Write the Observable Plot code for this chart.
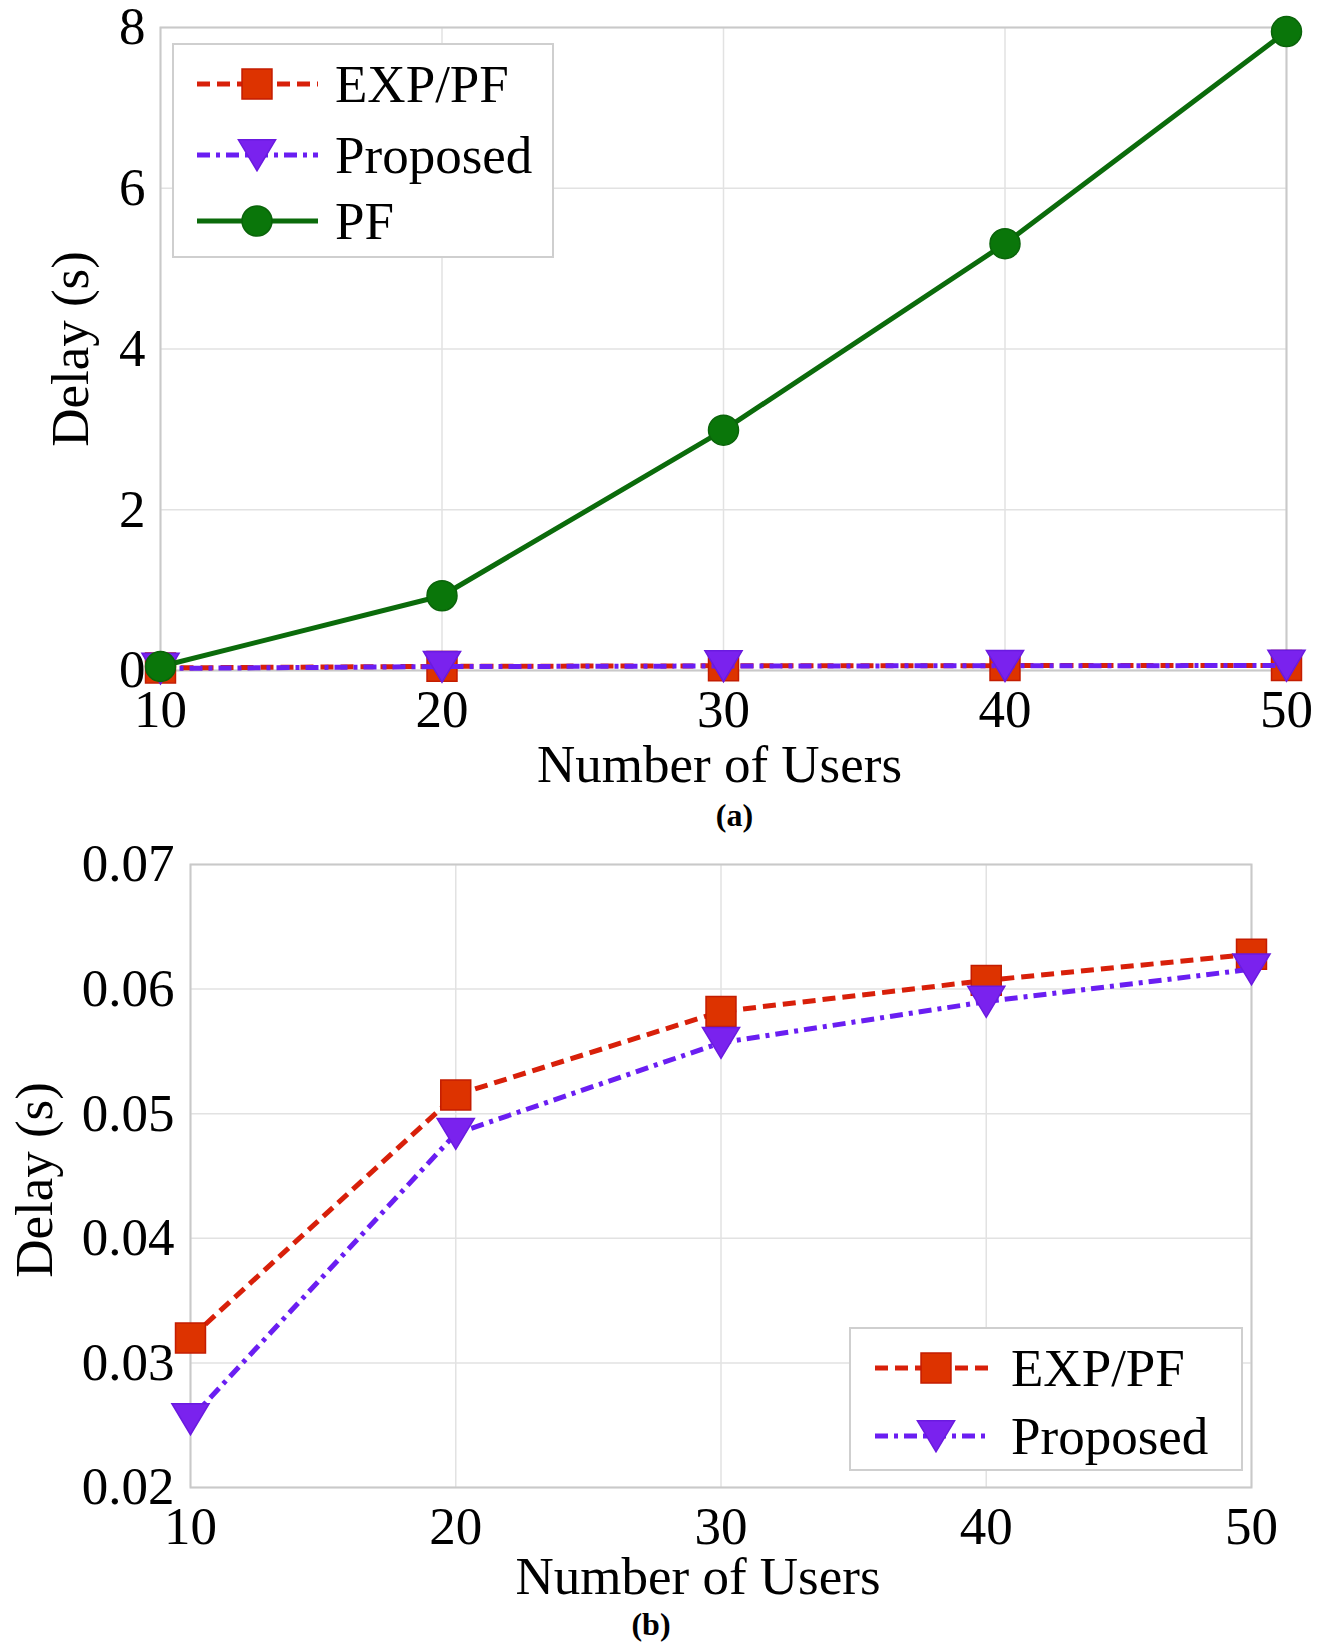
<!DOCTYPE html>
<html><head><meta charset="utf-8">
<script src="https://cdn.jsdelivr.net/npm/d3@7"></script>
<script src="https://cdn.jsdelivr.net/npm/@observablehq/plot@0.6"></script>
<style>
html,body{margin:0;padding:0;background:#fff;}
#wrap{width:1330px;height:1644px;position:relative;overflow:hidden;}
#wrap svg{display:block;overflow:visible;}
</style></head><body><div id="wrap"></div>
<script>
// ---- data ----
const users = [10, 20, 30, 40, 50];
const expPF = [0.0320, 0.0515, 0.0582, 0.0607, 0.0628];
const proposed = [0.0255, 0.0484, 0.0557, 0.0590, 0.0616];
const pf = [0.05, 0.93, 2.99, 5.31, 7.95];
const xTicks = [10, 20, 30, 40, 50];
const yTicksA = [0, 2, 4, 6, 8];
const yTicksB = [0.02, 0.03, 0.04, 0.05, 0.06, 0.07];
const xLabel = "Number of Users";
const yLabel = "Delay (s)";

// ---- styles ----
const triDown = {
  draw(ctx, size) {
    const r = Math.sqrt(size / Math.PI);
    ctx.moveTo(-1.1 * r, -0.9 * r);
    ctx.lineTo(1.1 * r, -0.9 * r);
    ctx.lineTo(0, 0.93 * r);
    ctx.closePath();
  }
};
const S = {
  "EXP/PF": {stroke: "#d8200a", fill: "#dd3300", mstroke: "#c41c00", dash: "13,7", symbol: d3.symbolSquare, r: 16.9},
  "Proposed": {stroke: "#6a1ef2", fill: "#7a22ee", mstroke: "#6a1ae0", dash: "13,6,4,6", symbol: triDown, r: 16.9},
  "PF": {stroke: "#0b6b0b", fill: "#0a760a", mstroke: "#0a640a", dash: null, symbol: d3.symbolCircle, r: 15}
};
const FONT = "'Liberation Serif','Times New Roman',Times,serif";
const FS = 53;

function rows(name, vals) { return users.map((u, i) => ({users: u, delay: vals[i], series: name})); }

function seriesMarks(name, vals) {
  const d = rows(name, vals), s = S[name];
  return [
    Plot.line(d, {x: "users", y: "delay", stroke: s.stroke, strokeWidth: 5, strokeDasharray: s.dash || undefined, strokeLinecap: "butt"}),
    Plot.dot(d, {x: "users", y: "delay", symbol: s.symbol, r: s.r, fill: s.fill, stroke: s.mstroke, strokeWidth: 1.5})
  ];
}

function makeChart(o) {
  const svg = Plot.plot({
    width: 1330, height: o.height,
    marginTop: o.mt, marginBottom: o.mb, marginLeft: o.ml, marginRight: o.mr,
    style: {fontFamily: FONT, fontSize: FS + "px", color: "#000", background: "#fff", overflow: "visible"},
    x: {domain: [10, 50]},
    y: {domain: o.yDomain},
    marks: [
      Plot.gridX(xTicks, {stroke: "#e2e2e2", strokeOpacity: 1, strokeWidth: 1.5}),
      Plot.gridY(o.yTicks, {stroke: "#e2e2e2", strokeOpacity: 1, strokeWidth: 1.5}),
      Plot.frame({stroke: "#c9c9c9", strokeWidth: 2}),
      Plot.axisX(xTicks, {tickSize: 0, tickPadding: 19, fontSize: FS, label: null}),
      Plot.axisY(o.yTicks, {tickSize: 0, tickPadding: o.ypad, fontSize: FS, label: null, tickFormat: o.yFormat}),
      ...o.series.flatMap(([n, v]) => seriesMarks(n, v)),
      Plot.text([xLabel], {frameAnchor: "bottom", lineAnchor: "middle", textAnchor: "middle", dy: o.xlDy, dx: o.xlDx, fontSize: FS}),
      Plot.text([yLabel], {frameAnchor: "left", lineAnchor: "middle", textAnchor: "middle", rotate: -90, dx: o.ylDx, dy: o.ylDy, fontSize: FS}),
      Plot.text([o.cap], {frameAnchor: "bottom", lineAnchor: "middle", textAnchor: "middle", dy: o.capDy, dx: o.capDx, fontSize: 32, fontWeight: "bold"})
    ]
  });
  // legend
  const g = d3.select(svg).append("g").attr("font-family", FONT).attr("font-size", FS).attr("text-anchor", "start");
  const L = o.legend;
  g.append("rect").attr("x", L.x).attr("y", L.y).attr("width", L.w).attr("height", L.h)
    .attr("fill", "#fff").attr("stroke", "#cfcfcf").attr("stroke-width", 2);
  L.items.forEach((name, i) => {
    const s = S[name], yy = L.rowY[i];
    g.append("line").attr("x1", L.lx0).attr("x2", L.lx1).attr("y1", yy).attr("y2", yy)
      .attr("stroke", s.stroke).attr("stroke-width", 5).attr("stroke-dasharray", s.dash);
    g.append("path").attr("transform", `translate(${L.mx},${yy})`)
      .attr("d", d3.symbol(s.symbol, Math.PI * s.r * s.r)())
      .attr("fill", s.fill).attr("stroke", s.mstroke).attr("stroke-width", 1.5);
    g.append("text").attr("x", L.tx).attr("y", yy).attr("dy", "0.34em").attr("fill", "#000").text(name);
  });
  return svg;
}

const wrap = document.getElementById("wrap");
wrap.appendChild(makeChart({
  height: 800, mt: 27, mb: 130, ml: 160, mr: 44,
  yDomain: [0, 8], yTicks: yTicksA, yFormat: d3.format("d"), ypad: 15,
  series: [["EXP/PF", expPF], ["Proposed", proposed], ["PF", pf]],
  xlDy: 95, xlDx: -4, ylDx: -89, ylDy: 0, cap: "(a)", capDy: 145, capDx: 11,
  legend: {x: 173, y: 44, w: 380, h: 213, rowY: [84, 155, 221], lx0: 197, lx1: 318, mx: 257, tx: 335,
           items: ["EXP/PF", "Proposed", "PF"]}
}));
wrap.appendChild(makeChart({
  height: 844, mt: 64, mb: 157, ml: 190, mr: 79,
  yDomain: [0.02, 0.07], yTicks: yTicksB, yFormat: d3.format(".2f"), ypad: 16,
  series: [["EXP/PF", expPF], ["Proposed", proposed]],
  xlDy: 90, xlDx: -23, ylDx: -155, ylDy: 4, cap: "(b)", capDy: 137, capDx: -70,
  legend: {x: 850, y: 528, w: 392, h: 142, rowY: [568, 636], lx0: 875, lx1: 990, mx: 936, tx: 1011,
           items: ["EXP/PF", "Proposed"]}
}));
</script></body></html>
